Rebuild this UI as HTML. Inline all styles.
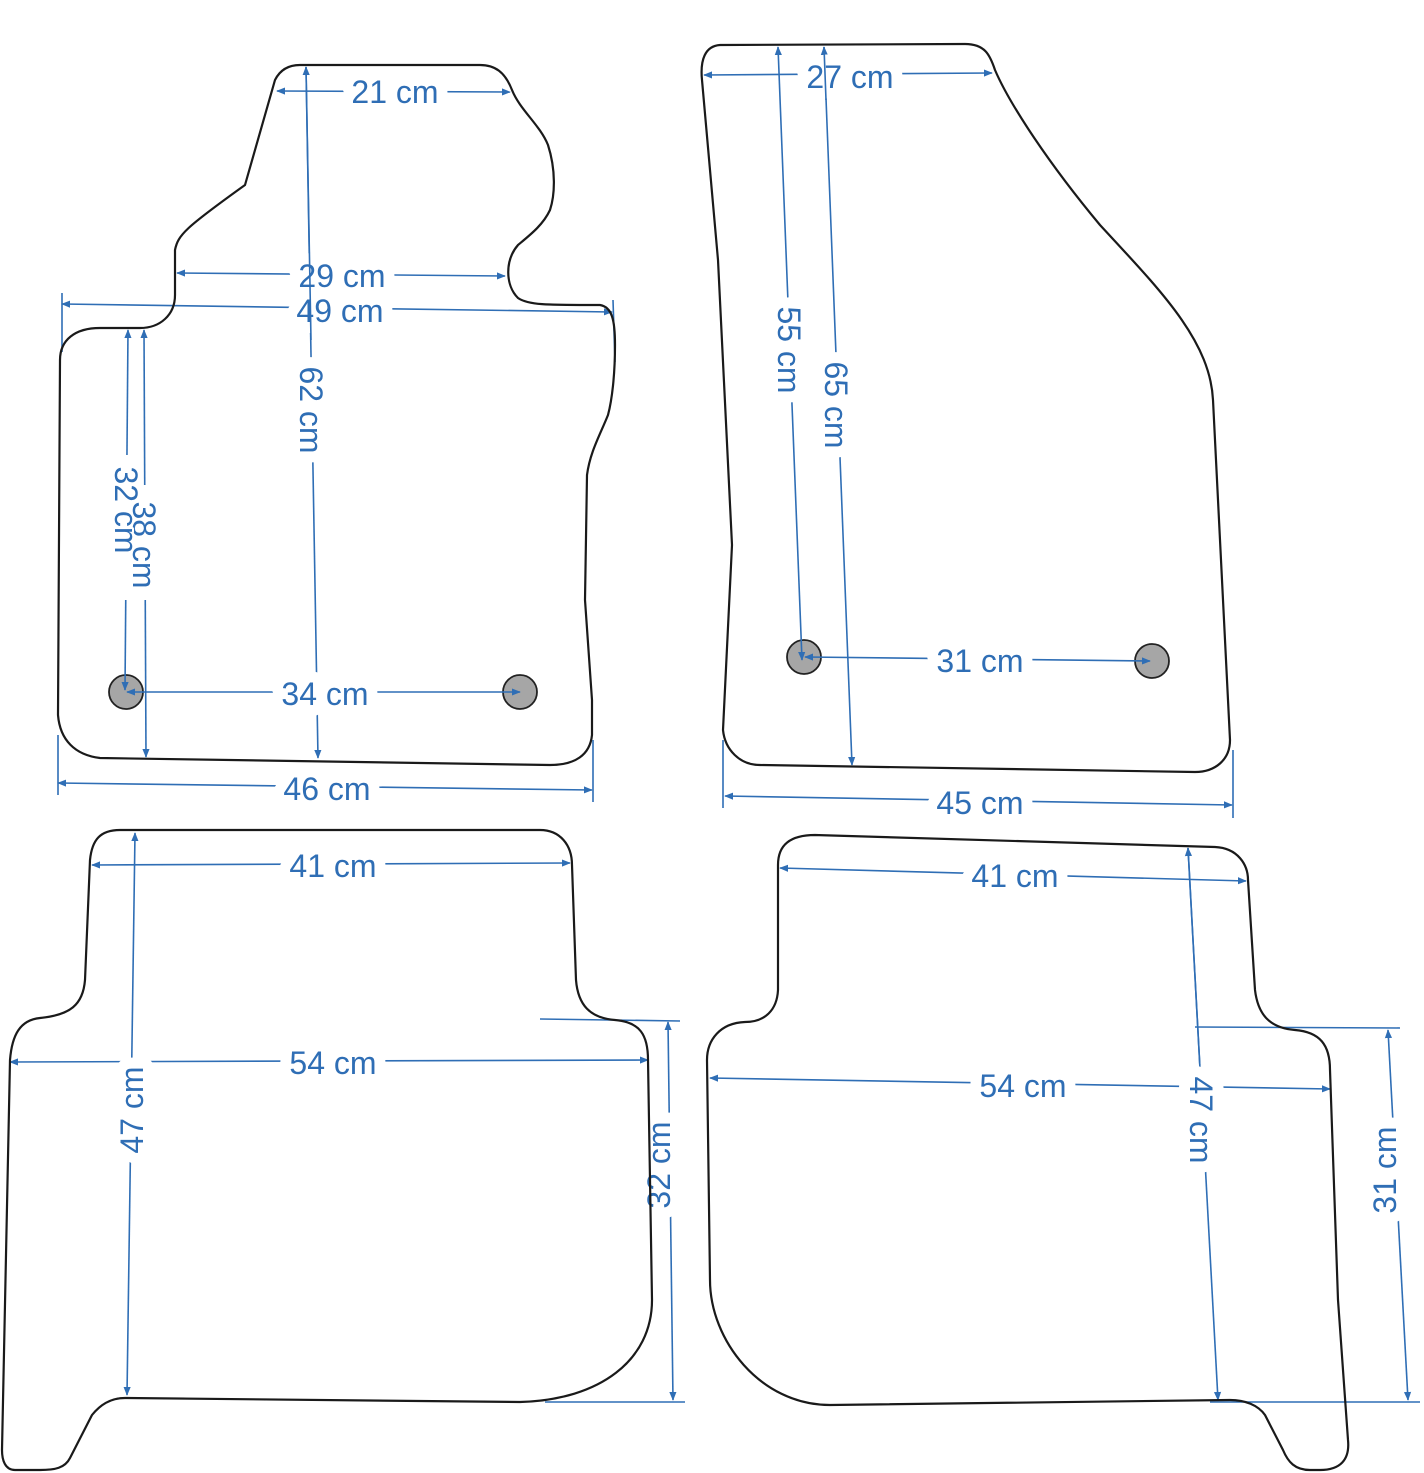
<!DOCTYPE html>
<html><head><meta charset="utf-8"><style>
html,body{margin:0;padding:0;background:#fff;}
svg{display:block;}
.f{fill:#fff;stroke:none;}
.m{fill:none;stroke:#1a1a1a;stroke-width:2.2;}
.d{stroke:#2f6eb5;stroke-width:1.6;fill:none;marker-start:url(#a);marker-end:url(#a);}
.e{stroke:#2f6eb5;stroke-width:1.6;fill:none;}
text{font-family:"Liberation Sans",Arial,sans-serif;font-size:32px;fill:#2f6eb5;text-anchor:middle;paint-order:stroke;stroke:#fff;stroke-width:22px;stroke-linejoin:round;}
text.s{stroke-width:4px;}
.dot{fill:#a6a6a6;stroke:#222;stroke-width:1.8;}
</style></head><body>
<svg width="1424" height="1473" viewBox="0 0 1424 1473" xmlns="http://www.w3.org/2000/svg">
<defs>
<marker id="a" viewBox="0 0 10 10" refX="9" refY="5" markerWidth="9" markerHeight="9" orient="auto-start-reverse" markerUnits="userSpaceOnUse">
<path d="M0,1 L10,5 L0,9 Z" fill="#2f6eb5"/></marker>
<path id="m1" d="M300,65 L480,65 C495,65 505,72 512,90 C520,110 540,125 548,145 C556,170 555,195 550,210 C543,225 530,235 518,245 C505,260 505,285 518,298 C528,305 545,305 600,305 C612,307 615,320 615,345 C615,375 612,400 608,415 C600,435 590,452 587,475 L585,600 L592,700 L592,735 C590,755 575,765 550,765 L100,758 C75,755 60,740 58,715 L60,360 C60,340 75,328 100,328 L140,328 C160,328 175,315 175,295 L175,250 C178,235 185,228 245,185 L275,80 C280,70 288,65 300,65 Z"/>
<path id="m2" d="M720,45 L965,44 C985,44 990,55 995,70 C1010,105 1050,165 1100,225 C1160,290 1210,340 1213,400 L1230,740 C1230,760 1215,772 1195,772 L760,765 C740,765 725,750 723,730 L732,545 L718,260 L702,80 C700,60 705,46 720,45 Z"/>
<path id="m3" d="M120,830 L540,830 C560,830 572,845 572,865 L576,980 C578,1005 590,1018 615,1020 C640,1022 648,1035 648,1060 L652,1300 C652,1360 600,1400 520,1402 L125,1398 C110,1398 100,1405 92,1415 L70,1458 C65,1468 55,1470 40,1470 L15,1470 C5,1470 2,1460 2,1450 L10,1060 C12,1035 20,1020 40,1018 C70,1015 83,1005 85,980 L90,860 C92,840 100,830 120,830 Z"/>
<path id="m4" d="M815,835 L1215,847 C1238,848 1248,865 1248,880 L1255,990 C1258,1015 1270,1028 1295,1030 C1320,1032 1330,1045 1330,1070 L1338,1300 L1348,1440 C1350,1460 1340,1470 1320,1470 L1310,1470 C1295,1470 1288,1462 1283,1450 L1265,1415 C1258,1405 1245,1400 1230,1400 L830,1405 C760,1405 710,1340 710,1280 L707,1060 C707,1040 720,1023 745,1022 C765,1022 777,1010 778,990 L778,865 C778,845 790,835 815,835 Z"/>
</defs>

<use href="#m1" class="f"/><use href="#m2" class="f"/><use href="#m3" class="f"/><use href="#m4" class="f"/>

<circle class="dot" cx="126" cy="692" r="17"/>
<circle class="dot" cx="520" cy="692" r="17"/>
<circle class="dot" cx="804" cy="657" r="17"/>
<circle class="dot" cx="1152" cy="661" r="17"/>

<path class="e" d="M62,293 L62,352 M613,300 L615,362 M58,735 L58,795 M593,740 L593,802 M723,740 L723,808 M1233,750 L1233,818 M540,1019 L680,1021 M545,1402 L685,1402 M1195,1027 L1400,1028 M1210,1402 L1420,1402"/>

<line class="d" x1="277" y1="91" x2="510" y2="92"/>
<line class="d" x1="306" y1="67" x2="318" y2="758"/>
<line class="d" x1="177" y1="273" x2="505" y2="276"/>
<line class="d" x1="62" y1="304" x2="612" y2="312"/>
<line class="d" x1="128" y1="330" x2="125" y2="690"/>
<line class="d" x1="144" y1="330" x2="146" y2="757"/>
<line class="d" x1="127" y1="692" x2="520" y2="692"/>
<line class="d" x1="58" y1="783" x2="592" y2="790"/>

<line class="d" x1="704" y1="75" x2="992" y2="73"/>
<line class="d" x1="778" y1="47" x2="802" y2="660"/>
<line class="d" x1="824" y1="47" x2="852" y2="765"/>
<line class="d" x1="805" y1="657" x2="1150" y2="661"/>
<line class="d" x1="725" y1="796" x2="1232" y2="805"/>

<line class="d" x1="92" y1="865" x2="570" y2="863"/>
<line class="d" x1="135" y1="833" x2="127" y2="1395"/>
<line class="d" x1="10" y1="1062" x2="648" y2="1060"/>
<line class="d" x1="668" y1="1022" x2="673" y2="1400"/>

<line class="d" x1="780" y1="868" x2="1246" y2="881"/>
<line class="d" x1="1188" y1="848" x2="1218" y2="1400"/>
<line class="d" x1="710" y1="1078" x2="1330" y2="1089"/>
<line class="d" x1="1388" y1="1030" x2="1408" y2="1400"/>

<text x="395" y="103">21 cm</text>
<text x="342" y="287">29 cm</text>
<text x="340" y="322">49 cm</text>
<text x="325" y="705">34 cm</text>
<text x="327" y="800">46 cm</text>
<text transform="translate(300,410) rotate(90)">62 cm</text>

<text x="850" y="88">27 cm</text>
<text x="980" y="672">31 cm</text>
<text x="980" y="814">45 cm</text>
<text transform="translate(778,350) rotate(90)">55 cm</text>
<text transform="translate(825,405) rotate(90)">65 cm</text>

<text x="333" y="877">41 cm</text>
<text x="333" y="1074">54 cm</text>
<text transform="translate(143,1110) rotate(-90)">47 cm</text>
<text transform="translate(670,1165) rotate(-90)">32 cm</text>

<text x="1015" y="887">41 cm</text>
<text x="1023" y="1097">54 cm</text>
<text transform="translate(1190,1120) rotate(90)">47 cm</text>
<text transform="translate(1396,1170) rotate(-90)">31 cm</text>

<use href="#m1" class="m"/><use href="#m2" class="m"/><use href="#m3" class="m"/><use href="#m4" class="m"/>

<path class="e" d="M306,67 L311,340 M824,47 L826,100 M1188,848 L1199.8,1065"/>
<path d="M127,455 L127,600 M145,485 L145,600" stroke="#fff" stroke-width="10"/>
<text class="s" transform="translate(133,545) rotate(90)">38 cm</text>
<text class="s" transform="translate(115,510) rotate(90)">32 cm</text>
</svg>
</body></html>
